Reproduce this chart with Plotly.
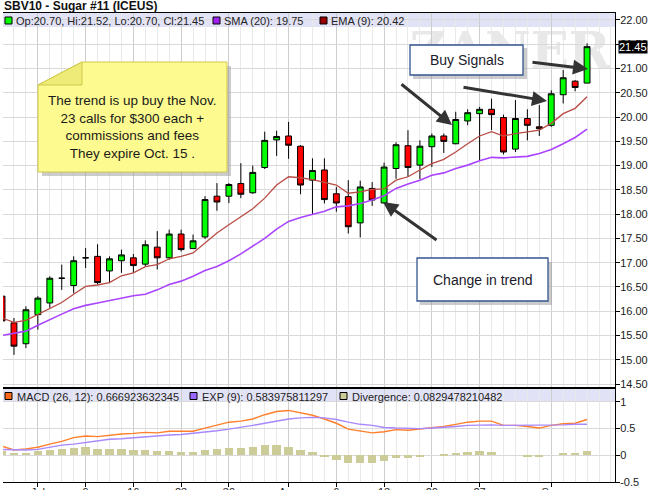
import plotly.graph_objects as go

# ---------------- data ----------------
idx = list(range(50))
opens = [16.31, 15.76, 15.33, 15.93, 16.17, 16.68, 16.53, 17.10, 17.13, 16.83,
         17.04, 17.10, 16.97, 17.32, 17.10, 17.59, 17.29, 17.53, 18.37, 18.37,
         18.63, 18.44, 18.96, 19.53, 19.61, 19.40, 18.70, 18.91, 18.42, 18.36,
         17.82, 18.53, 18.23, 18.94, 19.41, 19.01, 19.39, 19.61, 19.45, 19.92,
         20.07, 20.16, 19.99, 19.34, 19.97, 19.80, 19.83, 20.46, 20.74, 20.70]
highs = [16.40, 15.86, 16.10, 16.31, 16.72, 16.96, 17.13, 17.30, 17.38, 17.13,
         17.27, 17.18, 17.46, 17.65, 17.68, 17.68, 17.58, 18.37, 18.64, 18.64,
         19.05, 19.00, 19.70, 19.72, 19.90, 19.42, 19.15, 19.15, 18.56, 18.70,
         18.69, 18.66, 19.06, 19.48, 19.73, 19.52, 19.66, 19.66, 20.11, 20.16,
         20.21, 20.38, 20.05, 20.35, 20.16, 20.25, 20.55, 20.97, 20.76, 21.52]
lows = [15.75, 15.10, 15.24, 15.62, 16.07, 16.44, 16.37, 16.89, 16.55, 16.58,
        16.79, 16.79, 16.92, 16.86, 17.06, 17.23, 17.29, 17.49, 18.07, 18.23,
        18.33, 18.42, 18.93, 19.20, 19.14, 18.41, 18.00, 18.22, 18.05, 17.60,
        17.52, 18.17, 18.22, 18.73, 18.77, 18.72, 18.97, 19.26, 19.44, 19.83,
        19.11, 19.73, 19.23, 19.28, 19.52, 19.61, 19.80, 20.28, 20.53, 20.70]
closes = [15.80, 15.28, 16.03, 16.27, 16.68, 16.68, 17.04, 17.10, 16.59, 17.08,
          17.16, 16.94, 17.37, 17.10, 17.59, 17.27, 17.45, 18.30, 18.25, 18.61,
          18.41, 18.86, 19.52, 19.60, 19.42, 18.60, 18.90, 18.30, 18.23, 17.74,
          18.56, 18.29, 18.97, 19.43, 18.96, 19.40, 19.61, 19.50, 19.95, 20.09,
          20.16, 20.05, 19.28, 19.97, 19.83, 19.76, 20.48, 20.81, 20.61, 21.45]
sma20 = [15.50, 15.54, 15.59, 15.71, 15.83, 15.94, 16.05, 16.12, 16.17, 16.22,
         16.27, 16.32, 16.35, 16.44, 16.55, 16.62, 16.72, 16.84, 16.92, 17.04,
         17.18, 17.34, 17.50, 17.69, 17.85, 17.93, 18.00, 18.06, 18.15, 18.17,
         18.22, 18.29, 18.38, 18.53, 18.62, 18.70, 18.80, 18.85, 18.94, 19.01,
         19.10, 19.17, 19.16, 19.17, 19.19, 19.25, 19.33, 19.45, 19.58, 19.75]
ema9 = [15.86, 15.77, 15.81, 15.93, 16.05, 16.18, 16.35, 16.51, 16.54, 16.59,
        16.73, 16.79, 16.92, 16.96, 17.08, 17.13, 17.20, 17.41, 17.61, 17.78,
        17.95, 18.11, 18.33, 18.60, 18.77, 18.75, 18.71, 18.66, 18.60, 18.43,
        18.46, 18.51, 18.52, 18.70, 18.77, 18.91, 19.04, 19.13, 19.28, 19.45,
        19.61, 19.70, 19.61, 19.66, 19.70, 19.73, 19.87, 20.07, 20.18, 20.42]
macd = [0.17, 0.10, 0.12, 0.15, 0.21, 0.26, 0.33, 0.36, 0.35, 0.38,
        0.40, 0.41, 0.43, 0.42, 0.45, 0.45, 0.45, 0.51, 0.56, 0.62,
        0.64, 0.68, 0.76, 0.82, 0.84, 0.79, 0.75, 0.68, 0.60, 0.49,
        0.46, 0.42, 0.44, 0.48, 0.47, 0.49, 0.52, 0.54, 0.58, 0.62,
        0.64, 0.64, 0.56, 0.56, 0.54, 0.51, 0.56, 0.59, 0.60, 0.67]
signal = [0.11, 0.10, 0.10, 0.11, 0.15, 0.19, 0.21, 0.24, 0.28, 0.30,
          0.31, 0.33, 0.35, 0.36, 0.38, 0.39, 0.41, 0.43, 0.46, 0.49,
          0.52, 0.56, 0.60, 0.64, 0.68, 0.70, 0.71, 0.70, 0.67, 0.62,
          0.58, 0.56, 0.52, 0.51, 0.50, 0.50, 0.51, 0.52, 0.54, 0.56,
          0.57, 0.57, 0.56, 0.56, 0.56, 0.56, 0.56, 0.57, 0.58, 0.58]
divergence = [0.08, 0.04, 0.05, 0.08, 0.10, 0.12, 0.13, 0.15, 0.11, 0.11,
              0.11, 0.09, 0.09, 0.08, 0.08, 0.07, 0.07, 0.09, 0.11, 0.13,
              0.13, 0.15, 0.19, 0.19, 0.16, 0.10, 0.06, -0.04, -0.09, -0.15,
              -0.14, -0.14, -0.10, -0.05, -0.05, -0.02, 0.00, 0.02, 0.04, 0.06,
              0.08, 0.06, 0.00, 0.00, -0.02, -0.04, 0.00, 0.04, 0.04, 0.08]
date_tick_pos = [3, 7, 11, 15, 19, 24, 28, 32, 36, 40, 46]
date_tick_text = ["Jul", "9", "16", "23", "30", "Aug", "6", "13", "20", "27", "Sep"]
price_ticks = [14.5 + 0.5 * i for i in range(16)]
macd_ticks = [-0.5, 0, 0.5, 1]

# ---------------- geometry helpers (pixel -> paper) ----------------
W, H = 650, 490
ML, MR, MT, MB = 3, 35, 13, 8
PW, PH = W - ML - MR, H - MT - MB
SPLIT = 388
dom_split = (H - MB - SPLIT) / PH


def px(x):
    return (x - ML) / PW


def py(y):
    return (H - MB - y) / PH


FONT = "Liberation Sans, Arial, sans-serif"

fig = go.Figure()

fig.add_trace(go.Candlestick(
    x=idx, open=opens, high=highs, low=lows, close=closes,
    increasing=dict(fillcolor="#00ff00", line=dict(color="#000000", width=1)),
    decreasing=dict(fillcolor="#ff0000", line=dict(color="#000000", width=1)),
    whiskerwidth=0, showlegend=False, xaxis="x", yaxis="y"))
fig.add_trace(go.Scatter(x=idx, y=sma20, mode="lines",
                         line=dict(color="#aa44ff", width=1.6),
                         showlegend=False, xaxis="x", yaxis="y"))
fig.add_trace(go.Scatter(x=idx, y=ema9, mode="lines",
                         line=dict(color="#b84c44", width=1.3),
                         showlegend=False, xaxis="x", yaxis="y"))

fig.add_trace(go.Bar(x=idx, y=divergence, width=0.7,
                     marker=dict(color="#cccc99", line=dict(width=0)),
                     showlegend=False, xaxis="x2", yaxis="y2"))
fig.add_trace(go.Scatter(x=idx, y=macd, mode="lines",
                         line=dict(color="#ff7f2a", width=1.4),
                         showlegend=False, xaxis="x2", yaxis="y2"))
fig.add_trace(go.Scatter(x=idx, y=signal, mode="lines",
                         line=dict(color="#a888ff", width=1.4),
                         showlegend=False, xaxis="x2", yaxis="y2"))

xrange = [0.08, 51.34]
common_x = dict(range=xrange, showline=True, linecolor="#000000", linewidth=1,
                mirror=True, tickmode="array", tickvals=date_tick_pos,
                ticktext=date_tick_text, showgrid=True, gridcolor="#cdcdcd",
                gridwidth=1, zeroline=False, automargin=False,
                minor=dict(tickmode="linear", tick0=0, dtick=1, showgrid=True,
                           gridcolor="#e9e9e9", gridwidth=1, ticks=""))
common_y = dict(side="right", ticks="outside", ticklen=4, tickcolor="#000000",
                showline=True, linecolor="#000000", linewidth=1,
                showgrid=True, gridcolor="#d9d9d9", gridwidth=1, zeroline=False,
                automargin=False, ticklabelstandoff=-2,
                tickfont=dict(size=11, color="#222222"))

fig.update_layout(
    width=W, height=H,
    margin=dict(l=ML, r=MR, t=MT, b=MB, pad=0, autoexpand=False),
    paper_bgcolor="#ffffff", plot_bgcolor="rgba(0,0,0,0)",
    font=dict(family=FONT, size=11, color="#222222"),
    showlegend=False, bargap=0,
    xaxis=dict(anchor="y", domain=[0, 1], showticklabels=False, ticks="",
               rangeslider=dict(visible=False), **common_x),
    xaxis2=dict(anchor="y2", domain=[0, 1], matches="x", showticklabels=True,
                ticks="outside", ticklen=4, tickcolor="#000000",
                ticklabelstandoff=-4,
                tickfont=dict(size=11, color="#222222"), **common_x),
    yaxis=dict(domain=[dom_split, 1], anchor="x",
               range=[14.418, 22.144], tickmode="array", tickvals=price_ticks,
               ticktext=["%.2f" % v for v in price_ticks], **common_y),
    yaxis2=dict(domain=[0, dom_split], anchor="x2",
                range=[-0.5, 1.26], tickmode="array", tickvals=macd_ticks,
                ticktext=["-0.5", "0", "0.5", "1"], **common_y),
)

shapes = []
# legend bands (below the grid)
shapes.append(dict(type="rect", xref="x domain", yref="y domain", x0=0, x1=1,
                   y0=(SPLIT - 27) / (SPLIT - MT), y1=1, layer="below",
                   fillcolor="#e2e2f7", line=dict(width=0)))
shapes.append(dict(type="rect", xref="x2 domain", yref="y2 domain", x0=0, x1=1,
                   y0=(H - MB - 402) / (H - MB - SPLIT), y1=1, layer="below",
                   fillcolor="#e2e2f7", line=dict(width=0)))
# watermark
shapes.append(dict(type="rect", xref="paper", yref="paper",
                   x0=px(410), x1=px(610), y0=py(72), y1=py(22), layer="below",
                   line=dict(width=0), fillcolor="rgba(0,0,0,0)",
                   label=dict(text="ZANER", textposition="middle center",
                              font=dict(family="DejaVu Serif", size=50,
                                        color="#e8e8e8", weight="bold"))))
# panel separator
shapes.append(dict(type="line", xref="paper", yref="paper", x0=0, x1=1,
                   y0=py(SPLIT), y1=py(SPLIT), line=dict(color="#000000", width=2)))


def sq(x, y, color):
    shapes.append(dict(type="rect", xref="paper", yref="paper",
                       x0=px(x), x1=px(x + 7), y0=py(y + 3.5), y1=py(y - 3.5),
                       fillcolor=color, line=dict(color="#000000", width=1)))


sq(5, 20.5, "#00ff00")
sq(213, 20.5, "#a020f0")
sq(320, 20.5, "#990000")
sq(5, 396, "#ff6a1a")
sq(190, 396, "#9966ff")
sq(340, 396, "#cccc99")


def poly(points, fill, line_color=None, lw=1, opacity=1.0):
    d = "M " + " L ".join("%f,%f" % (px(a), py(b)) for a, b in points) + " Z"
    shapes.append(dict(type="path", xref="paper", yref="paper", path=d,
                       fillcolor=fill, opacity=opacity,
                       line=dict(color=line_color or "rgba(0,0,0,0)",
                                 width=lw if line_color else 0)))


# sticky note
note = [(38, 85), (82, 62), (227, 62), (227, 172), (38, 172)]
poly([(a + 4, b + 4) for a, b in note], "#9a9a9a", opacity=0.5)
poly(note, "#fdfb8f", "#cfc84a", 1)
poly([(38, 85), (82, 62), (82, 85)], "#efeb78", "#cfc84a", 1)

# text boxes
poly([(413, 48), (527, 48), (527, 79), (413, 79)], "#9a9a9a", opacity=0.5)
poly([(410, 45), (523, 45), (523, 75), (410, 75)], "#ffffff", "#34568f", 1.3)
poly([(420, 262), (552, 262), (552, 305), (420, 305)], "#9a9a9a", opacity=0.5)
poly([(417, 258), (548, 258), (548, 301), (417, 301)], "#ffffff", "#34568f", 1.3)

fig.update_layout(shapes=shapes)

ann = []


def txt(x, y, s, size=11, xanchor="left", color="#222222", **kw):
    ann.append(dict(x=px(x), y=py(y), xref="paper", yref="paper", text=s,
                    showarrow=False, xanchor=xanchor, yanchor="middle",
                    font=dict(family=FONT, size=size, color=color), **kw))


txt(2, 6, "<b>SBV10 - Sugar #11 (ICEUS)</b>", 12, color="#111111")
txt(14, 21, "Op:%.2f, Hi:%.2f, Lo:%.2f, Cl:%.2f" % (opens[-1], highs[-1], lows[-1], closes[-1]))
txt(222, 21, "SMA (20): %.2f" % sma20[-1])
txt(329, 21, "EMA (9): %.2f" % ema9[-1])
txt(15, 397, "MACD (26, 12): 0.666923632345")
txt(200, 397, "EXP (9): 0.583975811297")
txt(350, 397, "Divergence: 0.0829478210482")
txt(132.5, 127, "The trend is up buy the Nov.<br>23 calls for $300 each +<br>"
    "commissions and fees<br>They expire Oct. 15 .", 13.5, xanchor="center",
    color="#1a1a1a")
txt(466.5, 60, "Buy Signals", 14, xanchor="center", color="#1a1a2a")
txt(482.5, 280, "Change in trend", 14, xanchor="center", color="#1a1a2a")

# last price tag on the right axis
ann.append(dict(x=1, y=closes[-1], xref="paper", yref="y", text="%.2f" % closes[-1],
                showarrow=False, xanchor="left", yanchor="middle", xshift=3,
                bgcolor="#000000", borderpad=0,
                font=dict(family=FONT, size=11, color="#ffffff")))

# arrows (tail -> tip), pixel positions
arrows = [((400, 83), (452, 125)), ((462, 87), (547, 101)),
          ((531, 62), (588, 69)), ((438, 241), (383, 202))]
for (tx, ty), (hx, hy) in arrows:
    ann.append(dict(x=px(hx), y=py(hy), xref="paper", yref="paper", text="",
                    showarrow=True, ax=tx - hx, ay=ty - hy, arrowhead=2,
                    arrowsize=1, arrowwidth=3, arrowcolor="#333333", standoff=0))

fig.update_layout(annotations=ann)

fig.write_html("out.html", config={"displayModeBar": False},
               post_script="document.body.style.margin='0px';"
                           "document.body.style.overflow='hidden';")
